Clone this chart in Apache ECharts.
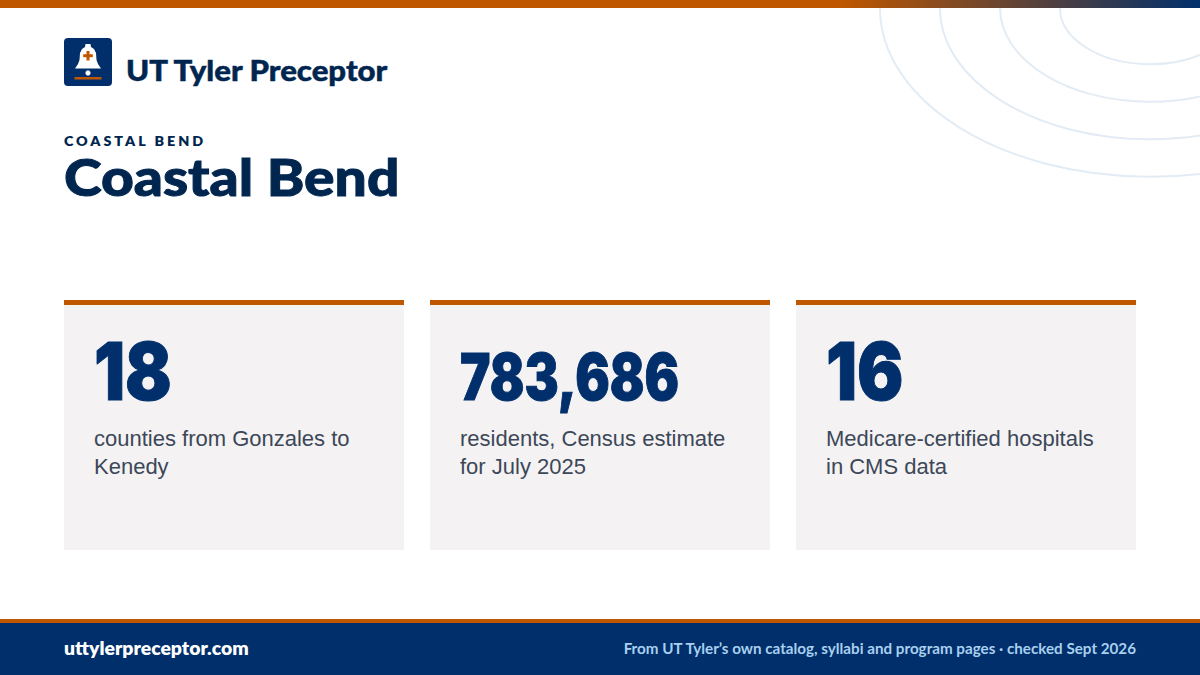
<!DOCTYPE html>
<html lang="en">
<head>
    <meta charset="UTF-8">
    <title>Coastal Bend</title>
    <script src="https://cdn.jsdelivr.net/npm/echarts@6/dist/echarts.min.js"></script>
    <style>
        html, body { margin: 0; padding: 0; background: #fff; }
        #chart { width: 1200px; height: 675px; }
    </style>
</head>
<body>
<div id="chart"></div>
<script>
    var brand = 'UT Tyler Preceptor';
    var eyebrow = 'COASTAL BEND';
    var title = 'Coastal Bend';
    var statValues = ['18', '783,686', '16'];
    var statLines = [
        ['counties from Gonzales to', 'Kenedy'],
        ['residents, Census estimate', 'for July 2025'],
        ['Medicare-certified hospitals', 'in CMS data']
    ];
    var footerLeft = 'uttylerpreceptor.com';
    var footerRight = 'From UT Tyler\u2019s own catalog, syllabi and program pages \u00b7 checked Sept 2026';

    var NAVY = '#002f6c', DARK = '#00264f', ORANGE = '#bf5700';
    var HEAD = 'Lato, "Noto Sans", sans-serif';
    var BODY = '"Liberation Sans", Arial, sans-serif';

    // svg renderer so the eyebrow can get real letter spacing below
    var chart = echarts.init(document.getElementById('chart'), null, { renderer: 'svg' });
    var els = [];

    function rect(x, y, w, h, fill, r, z) {
        els.push({ type: 'rect', shape: { x: x, y: y, width: w, height: h, r: r || 0 }, style: { fill: fill }, z: z || 5 });
    }
    function text(x, y, s, font, fill, align, scaleX, bold) {
        els.push({
            type: 'text', x: x, y: y, z: 6, scaleX: scaleX || 1,
            style: {
                text: s, font: font, fill: fill, textAlign: align || 'left', textVerticalAlign: 'middle',
                stroke: bold ? fill : null, lineWidth: bold || 0
            }
        });
    }

    // rings top right
    [270, 210, 150, 90].forEach(function(rx) {
        els.push({
            type: 'ellipse', z: 1,
            shape: { cx: 1150, cy: 8, rx: rx, ry: rx * 0.625 },
            style: { fill: null, stroke: '#e3ecf4', lineWidth: 2 }
        });
    });

    // top bar
    els.push({
        type: 'rect', z: 5, shape: { x: 0, y: 0, width: 1200, height: 8 },
        style: { fill: new echarts.graphic.LinearGradient(0, 0, 1, 0, [
            { offset: 0, color: ORANGE }, { offset: 0.7, color: ORANGE }, { offset: 1, color: NAVY }
        ]) }
    });

    // logo
    rect(64, 38, 48, 48, NAVY, 4);
    els.push({
        type: 'polygon', z: 6,
        shape: { points: [[85.5, 44], [90.5, 44], [91, 47], [94, 49], [96, 53], [96.5, 60], [98, 64], [101, 68.5], [75, 68.5], [78, 64], [79.5, 60], [80, 53], [82, 49], [85, 47]] },
        style: { fill: '#fff' }
    });
    els.push({ type: 'circle', z: 6, shape: { cx: 88, cy: 73, r: 2.6 }, style: { fill: '#fff' } });
    rect(86.5, 51, 3, 9.5, ORANGE, 0, 7);
    rect(83.2, 54.2, 9.6, 3, ORANGE, 0, 7);
    rect(74.5, 77, 27, 2.5, ORANGE, 0, 7);

    text(126, 69.5, brand, '900 29px ' + HEAD, DARK, 'left', 1.075, 0.5);
    text(64, 141, eyebrow, '800 13px ' + HEAD, DARK, 'left', 1.1);
    text(64, 176, title, '900 52px ' + HEAD, DARK, 'left', 1.095, 1);

    // stat cards
    statValues.forEach(function(v, i) {
        var x = 64 + i * 366;
        var isLong = v.length > 4;
        rect(x, 300, 340, 250, '#f4f2f3');
        rect(x, 300, 340, 5, ORANGE);
        text(x + 30, isLong ? 377 : 371, v, '900 ' + (isLong ? 64 : 80) + 'px Inter, ' + HEAD, NAVY, 'left', isLong ? 0.8 : 0.86, 1);
        statLines[i].forEach(function(line, j) {
            text(x + 30, 438.5 + j * 28, line, '400 22px ' + BODY, '#3c4858');
        });
    });

    // footer
    rect(0, 619, 1200, 4, ORANGE);
    rect(0, 623, 1200, 52, NAVY);
    text(64, 648, footerLeft, '800 19px ' + HEAD, '#fff', 'left', 1.02);
    text(1136, 648, footerRight, '700 15px ' + HEAD, '#a9d0ee', 'right', 1.014);

    chart.setOption({ animation: false, backgroundColor: '#fff', graphic: { elements: els } });

    chart.getDom().querySelectorAll('text').forEach(function(t) {
        if (t.textContent === eyebrow) t.style.letterSpacing = '2.7px';
    });
</script>
</body>
</html>
